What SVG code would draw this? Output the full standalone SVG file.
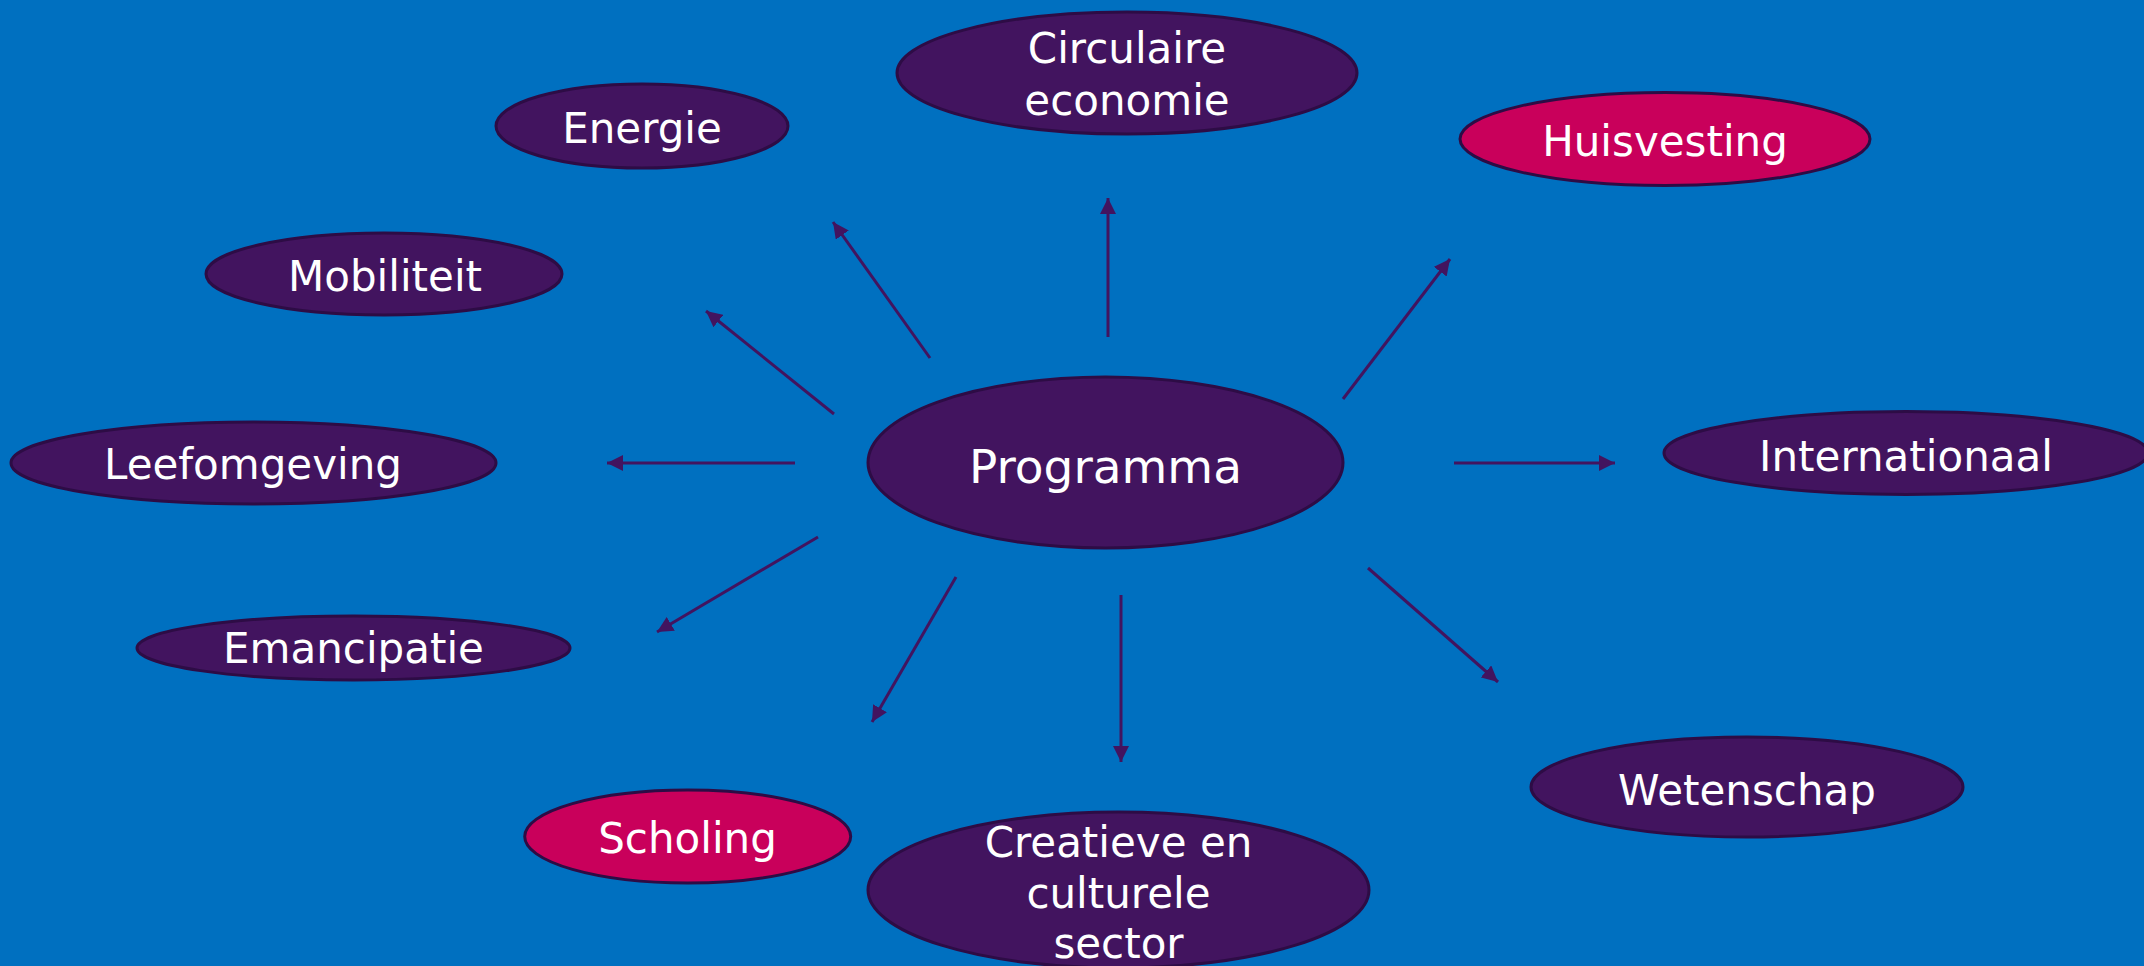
<svg xmlns="http://www.w3.org/2000/svg" width="2144" height="966" viewBox="0 0 2144 966">
<style>
.n{fill:#42145F;stroke:#2D0C45;stroke-width:3}
.p{fill:#C9005B;stroke:#2D0C45;stroke-width:3}
.t{font-family:"DejaVu Sans","Verdana",sans-serif;font-size:42px;fill:#FFFFFF;text-anchor:middle}
.big{font-size:47px}
.c line{stroke:#42145F;stroke-width:3;marker-end:url(#ah)}
</style>
<defs>
<marker id="ah" markerUnits="userSpaceOnUse" markerWidth="16" markerHeight="16" refX="16" refY="8" orient="auto">
<path d="M0,0 L16,8 L0,16 z" fill="#42145F"/>
</marker>
</defs>
<rect x="0" y="0" width="2144" height="966" fill="#0070C0"/>
<g id="connectors" class="c">
<line x1="1108" y1="337" x2="1108" y2="198"/>
<line x1="930" y1="358" x2="833" y2="222"/>
<line x1="834" y1="414" x2="706" y2="311"/>
<line x1="795" y1="463" x2="607" y2="463"/>
<line x1="818" y1="537" x2="657" y2="632"/>
<line x1="956" y1="577" x2="872" y2="722"/>
<line x1="1121" y1="595" x2="1121" y2="762"/>
<line x1="1368" y1="568" x2="1498" y2="682"/>
<line x1="1454" y1="463" x2="1615" y2="463"/>
<line x1="1343" y1="399" x2="1450" y2="259"/>
</g>
<g id="programma">
<ellipse class="n" cx="1105.5" cy="462.5" rx="237.5" ry="85.5"/>
<text class="t big" x="1105.5" y="483">Programma</text>
</g>
<g id="circulaire">
<ellipse class="n" cx="1127" cy="73" rx="230" ry="61"/>
<text class="t" x="1127" y="63">Circulaire</text>
<text class="t" x="1127" y="115">economie</text>
</g>
<g id="energie">
<ellipse class="n" cx="642" cy="126" rx="146" ry="42"/>
<text class="t" x="642" y="143">Energie</text>
</g>
<g id="huisvesting">
<ellipse class="p" cx="1665" cy="139" rx="205" ry="46.5"/>
<text class="t" x="1665" y="156">Huisvesting</text>
</g>
<g id="mobiliteit">
<ellipse class="n" cx="384" cy="274" rx="178" ry="41"/>
<text class="t" x="385" y="291">Mobiliteit</text>
</g>
<g id="leefomgeving">
<ellipse class="n" cx="253.5" cy="463" rx="242.5" ry="41"/>
<text class="t" x="253" y="479">Leefomgeving</text>
</g>
<g id="internationaal">
<ellipse class="n" cx="1906" cy="453" rx="242" ry="41.5"/>
<text class="t" x="1906" y="471">Internationaal</text>
</g>
<g id="emancipatie">
<ellipse class="n" cx="353.5" cy="648" rx="216.5" ry="32"/>
<text class="t" x="353.5" y="663">Emancipatie</text>
</g>
<g id="scholing">
<ellipse class="p" cx="687.7" cy="836.5" rx="163" ry="46.5"/>
<text class="t" x="687.5" y="853">Scholing</text>
</g>
<g id="wetenschap">
<ellipse class="n" cx="1747" cy="787" rx="216" ry="50"/>
<text class="t" x="1747" y="805">Wetenschap</text>
</g>
<g id="creatieve">
<ellipse class="n" cx="1118.5" cy="890" rx="250.5" ry="78"/>
<text class="t" x="1118.5" y="857">Creatieve en</text>
<text class="t" x="1118.5" y="908">culturele</text>
<text class="t" x="1118.5" y="958">sector</text>
</g>
</svg>
